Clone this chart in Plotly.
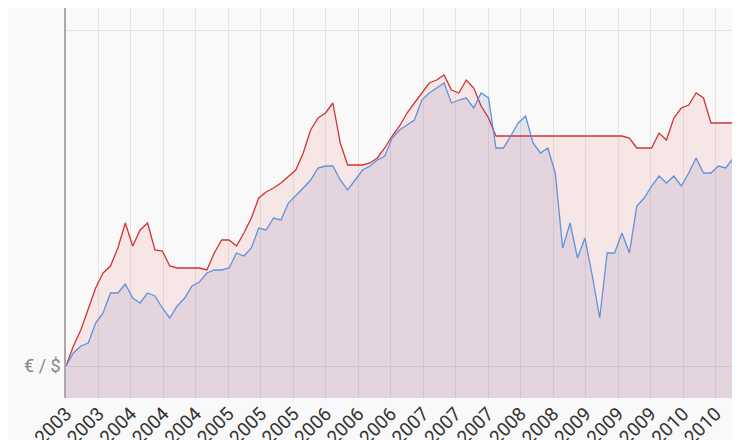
import plotly.graph_objects as go

months = list(range(93))
red_px = [358,338,322,300,280,265,258,240,215,238,222,215,242,243,258,260,260,260,260,262,245,232,232,238,225,210,190,184,180,175,168,162,145,122,110,105,95,135,157,157,157,155,150,140,128,118,105,95,85,75,72,67,82,85,72,80,98,110,128,128,128,128,128,128,128,128,128,128,128,128,128,128,128,128,128,128,130,140,140,140,125,132,110,100,97,85,90,115,115,115,115,115,108]
blue_px = [358,345,338,335,315,305,285,285,276,290,295,285,288,300,310,298,290,278,274,265,262,262,260,245,248,240,220,222,210,212,195,188,180,172,160,158,158,172,182,172,162,158,152,148,130,122,117,112,92,85,80,75,95,92,90,100,85,90,140,140,128,115,108,135,145,140,165,240,215,250,230,268,310,245,245,225,245,198,190,178,168,175,168,178,165,150,165,165,158,160,150,148,145]
red = [390 - v for v in red_px]
blue = [390 - v for v in blue_px]
tick_labels = ["2003","2003","2004","2004","2004","2005","2005","2005","2006","2006","2006",
               "2007","2007","2007","2008","2008","2009","2009","2009","2010","2010","2010"]

fig = go.Figure()
fig.add_trace(go.Scatter(x=months, y=red, mode="lines", line=dict(color="#d03434", width=1.3),
                         fill="tozeroy", fillcolor="rgba(235,120,120,0.15)"))
fig.add_trace(go.Scatter(x=months, y=blue, mode="lines", line=dict(color="#5f93dc", width=1.3),
                         fill="tozeroy", fillcolor="rgba(95,95,165,0.13)"))
n = len(tick_labels)
fig.update_layout(
    width=740, height=440, showlegend=False,
    paper_bgcolor="#f9f9f9", plot_bgcolor="#f9f9f9",
    margin=dict(l=58, r=0, t=0, b=50),
    xaxis=dict(range=[0, 92], tickvals=[i * 92 / (n - 1) for i in range(n)], ticktext=tick_labels,
               tickangle=-45, tickfont=dict(size=19, color="#333", family="Roboto"),
               showgrid=True, gridcolor="#e4e4e4", zeroline=False, showline=False, automargin=False),
    yaxis=dict(range=[0, 390], tickvals=[32, 368], ticktext=["€ / $", ""],
               tickfont=dict(size=18, color="#888", family="Roboto"),
               showgrid=True, gridcolor="#e0e0e0", zeroline=False, automargin=False,
               showline=True, linecolor="#aaa", linewidth=1.5),
)
fig.write_html("out.html")
